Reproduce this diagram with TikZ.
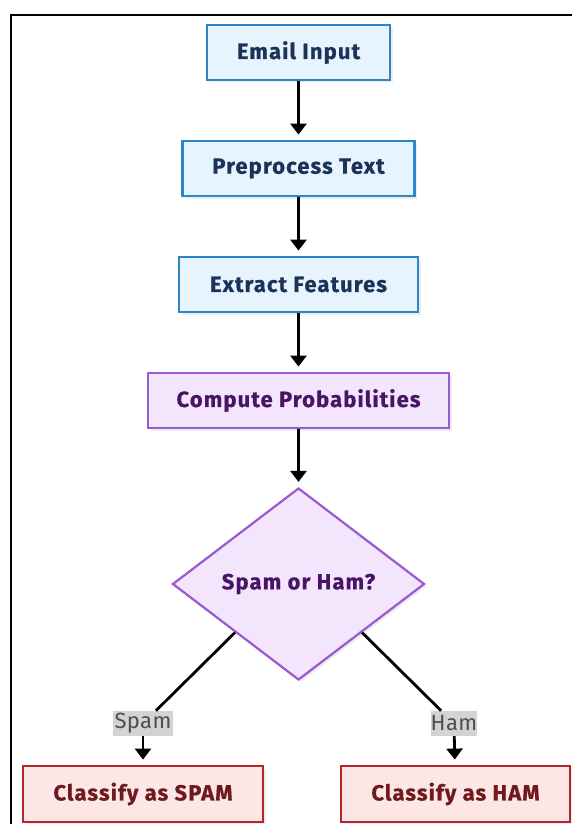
\documentclass[tikz,border=0pt]{standalone}
\usepackage{fontspec}
\setmainfont{Fira Sans}
\newfontfamily\boxfont[LetterSpace=5, BoldFeatures={FakeBold=0.6}]{Fira Sans}
\newfontfamily\labelfont[LetterSpace=2]{Fira Sans}
\usetikzlibrary{shapes.geometric,arrows.meta,shadows}

\definecolor{blueFill}{HTML}{E8F4FD}
\definecolor{blueLine}{HTML}{2E86C8}
\definecolor{blueText}{HTML}{1B3358}
\definecolor{purpleFill}{HTML}{F3E5FC}
\definecolor{purpleLine}{HTML}{9A57D6}
\definecolor{purpleText}{HTML}{4A1466}
\definecolor{redFill}{HTML}{FDE6E6}
\definecolor{redLine}{HTML}{B3262A}
\definecolor{redText}{HTML}{6E1A1E}
\definecolor{labelFill}{HTML}{D3D3D3}
\definecolor{labelText}{HTML}{4D4D55}

\tikzset{
  x=1pt, y=-1pt,
  softshadow/.style={drop shadow={shadow xshift=2.5pt, shadow yshift=-2.5pt,
    fill=black!12, opacity=0.6}},
  boxbase/.style={rectangle, line width=2.8pt, inner sep=0pt, softshadow,
    font=\boxfont\fontsize{22}{24}\selectfont\bfseries},
  bluebox/.style={boxbase, draw=blueLine, fill=blueFill, text=blueText},
  purplebox/.style={boxbase, draw=purpleLine, fill=purpleFill, text=purpleText},
  redbox/.style={boxbase, draw=redLine, fill=redFill, text=redText},
  decision/.style={diamond, line width=2.2pt, inner sep=0pt, softshadow,
    draw=purpleLine, fill=purpleFill, text=purpleText,
    font=\boxfont\fontsize{22}{24}\selectfont\bfseries},
  edgelabel/.style={rectangle, fill=labelFill, text=labelText, inner sep=0pt,
    font=\labelfont\fontsize{22}{24}\selectfont},
  flow/.style={line width=2.8pt, shorten >=5pt,
    -{Triangle[length=11pt, width=16pt]}},
  link/.style={line width=2.8pt},
}

\begin{document}
\begin{tikzpicture}
\useasboundingbox (0,0) rectangle (572,824);
\fill[white] (0,0) rectangle (572,824);

% outer frame (only its top and left sides fall inside the page)
\draw[line width=2.4pt, black] (11,824) -- (11,15) -- (572,15);

% process steps
\node[bluebox, minimum width=183pt, minimum height=55pt] (email) at (298.5,52.5) {Email Input};
\node[bluebox, minimum width=232pt, minimum height=55pt] (prep) at (298.5,168.5) {Preprocess Text};
\node[bluebox, minimum width=239pt, minimum height=55pt] (feat) at (298.5,284.5) {Extract Features};
\node[purplebox, minimum width=301pt, minimum height=55pt] (prob) at (298.5,400.5) {Compute Probabilities};

% decision
\node[decision, minimum width=252pt, minimum height=192pt] (dec) at (298.5,584) {Spam or Ham?};

% outcomes
\node[redbox, minimum width=240pt, minimum height=56pt] (spam) at (143,794) {Classify as SPAM};
\node[redbox, minimum width=229pt, minimum height=56pt] (ham) at (455.5,794) {Classify as HAM};

% branch labels
\node[edgelabel, minimum width=60pt, minimum height=25pt] (lspam) at (143,723.5) {Spam};
\node[edgelabel, minimum width=46pt, minimum height=25pt] (lham) at (454,723.5) {Ham};

% connectors
\draw[flow] (email) -- (prep);
\draw[flow] (prep) -- (feat);
\draw[flow] (feat) -- (prob);
\draw[flow] (prob) -- (dec);
\draw[link] (dec.south west) -- (lspam);
\draw[link] (dec.south east) -- (lham);
\draw[flow] (lspam) -- (spam);
\draw[flow] (lham) -- (ham);
\end{tikzpicture}
\end{document}
